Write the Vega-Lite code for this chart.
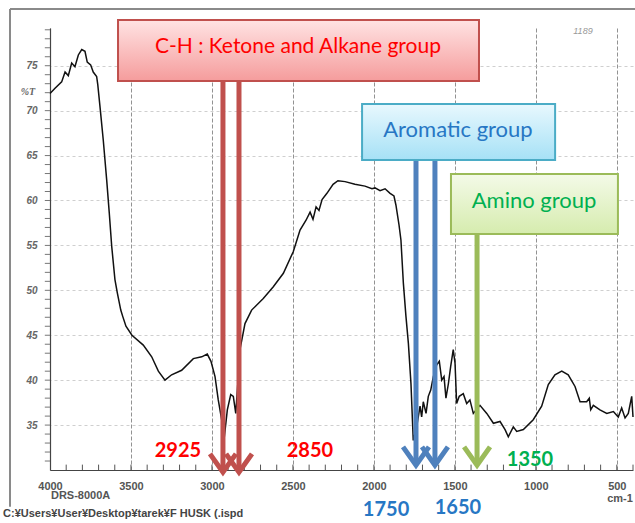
{
  "$schema": "https://vega.github.io/schema/vega-lite/v6.json",
  "width": 583,
  "height": 442,
  "autosize": {"type": "none"},
  "padding": {"left": 50, "top": 28, "right": 2, "bottom": 53},
  "background": "white",
  "config": {"view": {"stroke": null}},
  "datasets": {
    "spectrum": [
      {"wn": 4000, "T": 71.9}, {"wn": 3969, "T": 72.5}, {"wn": 3928, "T": 73.2}, {"wn": 3907, "T": 74.3},
      {"wn": 3887, "T": 73.9}, {"wn": 3866, "T": 75.3}, {"wn": 3846, "T": 74.9}, {"wn": 3825, "T": 76.2},
      {"wn": 3804, "T": 76.8}, {"wn": 3784, "T": 76.6}, {"wn": 3770, "T": 75.4}, {"wn": 3749, "T": 75.1},
      {"wn": 3733, "T": 74.3}, {"wn": 3712, "T": 73.8}, {"wn": 3705, "T": 72.9}, {"wn": 3691, "T": 70.4},
      {"wn": 3671, "T": 66.7}, {"wn": 3650, "T": 62.3}, {"wn": 3634, "T": 58.6}, {"wn": 3619, "T": 54.9},
      {"wn": 3599, "T": 51.2}, {"wn": 3584, "T": 49.7}, {"wn": 3563, "T": 47.8}, {"wn": 3551, "T": 47.1},
      {"wn": 3531, "T": 46.0}, {"wn": 3494, "T": 45.0}, {"wn": 3424, "T": 43.9}, {"wn": 3372, "T": 42.6},
      {"wn": 3331, "T": 41.0}, {"wn": 3290, "T": 40.0}, {"wn": 3249, "T": 40.6}, {"wn": 3187, "T": 41.1},
      {"wn": 3115, "T": 42.4}, {"wn": 3063, "T": 42.6}, {"wn": 3029, "T": 42.9}, {"wn": 3006, "T": 42.1},
      {"wn": 2981, "T": 40.4}, {"wn": 2961, "T": 37.8}, {"wn": 2940, "T": 35.6}, {"wn": 2926, "T": 33.3},
      {"wn": 2905, "T": 36.7}, {"wn": 2884, "T": 38.4}, {"wn": 2868, "T": 38.2}, {"wn": 2853, "T": 36.3},
      {"wn": 2843, "T": 38.9}, {"wn": 2827, "T": 43.4}, {"wn": 2796, "T": 46.3}, {"wn": 2755, "T": 47.8},
      {"wn": 2683, "T": 49.1}, {"wn": 2621, "T": 50.4}, {"wn": 2559, "T": 51.9}, {"wn": 2498, "T": 54.3},
      {"wn": 2456, "T": 56.7}, {"wn": 2419, "T": 57.8}, {"wn": 2394, "T": 58.7}, {"wn": 2376, "T": 57.9},
      {"wn": 2357, "T": 59.3}, {"wn": 2339, "T": 58.9}, {"wn": 2320, "T": 60.1}, {"wn": 2290, "T": 60.8},
      {"wn": 2252, "T": 61.8}, {"wn": 2222, "T": 62.2}, {"wn": 2178, "T": 62.1}, {"wn": 2117, "T": 61.8},
      {"wn": 2055, "T": 61.6}, {"wn": 2012, "T": 61.3}, {"wn": 1993, "T": 61.4}, {"wn": 1962, "T": 61.1},
      {"wn": 1931, "T": 61.3}, {"wn": 1900, "T": 60.8}, {"wn": 1876, "T": 60.5}, {"wn": 1864, "T": 59.5},
      {"wn": 1845, "T": 57.3}, {"wn": 1833, "T": 55.6}, {"wn": 1818, "T": 50.8}, {"wn": 1802, "T": 47.1},
      {"wn": 1787, "T": 44.1}, {"wn": 1771, "T": 39.6}, {"wn": 1757, "T": 33.3}, {"wn": 1736, "T": 34.8},
      {"wn": 1715, "T": 37.1}, {"wn": 1705, "T": 35.9}, {"wn": 1695, "T": 37.6}, {"wn": 1678, "T": 36.3},
      {"wn": 1664, "T": 38.2}, {"wn": 1649, "T": 38.9}, {"wn": 1633, "T": 40.4}, {"wn": 1612, "T": 41.7},
      {"wn": 1596, "T": 42.1}, {"wn": 1581, "T": 40.0}, {"wn": 1567, "T": 40.4}, {"wn": 1555, "T": 38.0},
      {"wn": 1540, "T": 39.6}, {"wn": 1526, "T": 41.5}, {"wn": 1510, "T": 43.4}, {"wn": 1499, "T": 41.9},
      {"wn": 1489, "T": 37.4}, {"wn": 1473, "T": 38.2}, {"wn": 1448, "T": 38.5}, {"wn": 1427, "T": 37.4},
      {"wn": 1407, "T": 37.8}, {"wn": 1386, "T": 36.3}, {"wn": 1345, "T": 37.2}, {"wn": 1303, "T": 36.3},
      {"wn": 1262, "T": 35.2}, {"wn": 1221, "T": 35.4}, {"wn": 1190, "T": 34.5}, {"wn": 1170, "T": 33.7},
      {"wn": 1139, "T": 34.8}, {"wn": 1118, "T": 34.3}, {"wn": 1077, "T": 34.5}, {"wn": 1016, "T": 35.6},
      {"wn": 964, "T": 37.1}, {"wn": 923, "T": 39.5}, {"wn": 882, "T": 40.6}, {"wn": 840, "T": 41.0},
      {"wn": 800, "T": 40.6}, {"wn": 758, "T": 39.3}, {"wn": 727, "T": 37.6}, {"wn": 686, "T": 37.6},
      {"wn": 670, "T": 38.0}, {"wn": 661, "T": 36.7}, {"wn": 645, "T": 37.2}, {"wn": 604, "T": 36.7},
      {"wn": 562, "T": 36.3}, {"wn": 521, "T": 36.5}, {"wn": 491, "T": 35.9}, {"wn": 470, "T": 36.9},
      {"wn": 449, "T": 35.8}, {"wn": 429, "T": 36.3}, {"wn": 408, "T": 38.2}, {"wn": 400, "T": 35.9}
    ],
    "xticks": [
      {"wn": 3900}, {"wn": 3800}, {"wn": 3700}, {"wn": 3600}, {"wn": 3500}, {"wn": 3400}, {"wn": 3300}, {"wn": 3200},
      {"wn": 3100}, {"wn": 3000}, {"wn": 2900}, {"wn": 2800}, {"wn": 2700}, {"wn": 2600}, {"wn": 2500}, {"wn": 2400},
      {"wn": 2300}, {"wn": 2200}, {"wn": 2100}, {"wn": 2000}, {"wn": 1900}, {"wn": 1800}, {"wn": 1700}, {"wn": 1600},
      {"wn": 1500}, {"wn": 1400}, {"wn": 1300}, {"wn": 1200}, {"wn": 1100}, {"wn": 1000}, {"wn": 900}, {"wn": 800},
      {"wn": 700}, {"wn": 600}, {"wn": 500}, {"wn": 400}
    ],
    "yticks": [
      {"T": 31}, {"T": 32}, {"T": 33}, {"T": 34}, {"T": 35}, {"T": 36}, {"T": 37}, {"T": 38}, {"T": 39}, {"T": 40},
      {"T": 41}, {"T": 42}, {"T": 43}, {"T": 44}, {"T": 45}, {"T": 46}, {"T": 47}, {"T": 48}, {"T": 49}, {"T": 50},
      {"T": 51}, {"T": 52}, {"T": 53}, {"T": 54}, {"T": 55}, {"T": 56}, {"T": 57}, {"T": 58}, {"T": 59}, {"T": 60},
      {"T": 61}, {"T": 62}, {"T": 63}, {"T": 64}, {"T": 65}, {"T": 66}, {"T": 67}, {"T": 68}, {"T": 69}, {"T": 70},
      {"T": 71}, {"T": 72}, {"T": 73}, {"T": 74}, {"T": 75}, {"T": 76}, {"T": 77}, {"T": 78}, {"T": 79}
    ],
    "boxes": [
      {"group": "CH", "label": "C-H : Ketone and Alkane group", "x1": 3580, "x2": 1351, "y1": 80.09, "y2": 73.3, "tx": 2469, "ty": 77.09},
      {"group": "Arom", "label": "Aromatic group", "x1": 2073, "x2": 881, "y1": 70.74, "y2": 64.51, "tx": 1481, "ty": 67.85},
      {"group": "Amino", "label": "Amino group", "x1": 1524, "x2": 493, "y1": 62.95, "y2": 56.27, "tx": 1011, "ty": 59.94}
    ],
    "arrows": [
      {"group": "CH", "wn": 2932, "top": 73.5, "tip": 30.2, "head": 30.78},
      {"group": "CH", "wn": 2833, "top": 73.5, "tip": 30.2, "head": 30.78},
      {"group": "Arom", "wn": 1740, "top": 64.9, "tip": 31.0, "head": 31.56},
      {"group": "Arom", "wn": 1623, "top": 64.9, "tip": 31.0, "head": 31.56},
      {"group": "Amino", "wn": 1363, "top": 56.6, "tip": 31.0, "head": 31.56}
    ],
    "peaks": [
      {"group": "CH", "label": "2925", "wn": 3210, "T": 32.12},
      {"group": "CH", "label": "2850", "wn": 2395, "T": 32.12},
      {"group": "Arom", "label": "1750", "wn": 1925, "T": 25.55},
      {"group": "Arom", "label": "1650", "wn": 1481, "T": 25.77},
      {"group": "Amino", "label": "1350", "wn": 1036, "T": 31.11}
    ]
  },
  "layer": [
    {
      "data": {"name": "spectrum"},
      "mark": {"type": "line", "color": "#111111", "strokeWidth": 1.5},
      "encoding": {
        "x": {
          "field": "wn", "type": "quantitative",
          "scale": {"domain": [400, 4000], "reverse": true, "nice": false, "zero": false},
          "axis": {
            "title": null,
            "values": [4000, 3500, 3000, 2500, 2000, 1500, 1000, 500],
            "format": "d",
            "labelOverlap": false,
            "labelFlush": false,
            "labelFont": "Liberation Sans",
            "labelFontSize": 11,
            "labelFontWeight": "bold",
            "labelColor": "#555555",
            "labelPadding": 10,
            "ticks": false,
            "domainColor": "#444444",
            "domainWidth": 1.2,
            "grid": true,
            "gridColor": "#777777",
            "gridDash": [4, 2],
            "gridOpacity": 0.8
          }
        },
        "y": {
          "field": "T", "type": "quantitative",
          "scale": {"domain": [30, 79.2], "nice": false, "zero": false},
          "axis": {
            "title": null,
            "values": [35, 40, 45, 50, 55, 60, 65, 70, 75],
            "labelOverlap": false,
            "labelFont": "Liberation Sans",
            "labelFontSize": 10,
            "labelFontWeight": "bold",
            "labelFontStyle": "italic",
            "labelColor": "#666666",
            "labelPadding": 13,
            "ticks": false,
            "domainColor": "#444444",
            "domainWidth": 1.2,
            "grid": true,
            "gridColor": "#bbbbbb",
            "gridDash": [3, 3],
            "gridOpacity": 0.7
          }
        }
      }
    },
    {
      "data": {"values": [{}]},
      "mark": {"type": "rule", "color": "#8a8a8a", "strokeWidth": 2},
      "encoding": {
        "x": {"datum": 4247, "type": "quantitative"},
        "x2": {"datum": 380},
        "y": {"datum": 81.31, "type": "quantitative"}
      }
    },
    {
      "data": {"values": [{}]},
      "mark": {"type": "rule", "color": "#8a8a8a", "strokeWidth": 2},
      "encoding": {
        "x": {"datum": 4247, "type": "quantitative"},
        "y": {"datum": 81.31, "type": "quantitative"},
        "y2": {"datum": 25.9}
      }
    },
    {
      "data": {"name": "xticks"},
      "mark": {"type": "rule", "color": "#555555", "strokeWidth": 1},
      "encoding": {
        "x": {"field": "wn", "type": "quantitative"},
        "y": {"datum": 30, "type": "quantitative"},
        "y2": {"datum": 30.6}
      }
    },
    {
      "data": {"name": "yticks"},
      "mark": {"type": "rule", "color": "#777777", "strokeWidth": 1},
      "encoding": {
        "x": {"datum": 4000, "type": "quantitative"},
        "x2": {"datum": 4032},
        "y": {"field": "T", "type": "quantitative"}
      }
    },
    {
      "data": {"name": "arrows"},
      "mark": {"type": "rule", "strokeWidth": 5, "strokeCap": "butt"},
      "encoding": {
        "x": {"field": "wn", "type": "quantitative"},
        "y": {"field": "top", "type": "quantitative"},
        "y2": {"field": "tip"},
        "color": {"field": "group", "type": "nominal", "legend": null,
          "scale": {"domain": ["CH", "Arom", "Amino"], "range": ["#C0504D", "#4F81BD", "#9BBB59"]}}
      }
    },
    {
      "data": {"name": "arrows"},
      "mark": {"type": "point", "shape": "M-1,-0.7L0,0.7L1,-0.7", "filled": false, "strokeWidth": 5, "size": 676, "strokeJoin": "miter", "opacity": 1},
      "encoding": {
        "x": {"field": "wn", "type": "quantitative"},
        "y": {"field": "head", "type": "quantitative"},
        "color": {"field": "group", "type": "nominal", "legend": null,
          "scale": {"domain": ["CH", "Arom", "Amino"], "range": ["#C0504D", "#4F81BD", "#9BBB59"]}}
      }
    },
    {
      "data": {"name": "boxes"},
      "transform": [{"filter": "datum.group === 'CH'"}],
      "mark": {"type": "rect", "stroke": "#C0504D", "strokeWidth": 2,
        "fill": {"gradient": "linear", "x1": 0, "y1": 0, "x2": 0, "y2": 1, "stops": [{"offset": 0, "color": "#FFE3E3"}, {"offset": 1, "color": "#F59C9C"}]}},
      "encoding": {
        "x": {"field": "x1", "type": "quantitative"}, "x2": {"field": "x2"},
        "y": {"field": "y1", "type": "quantitative"}, "y2": {"field": "y2"}
      }
    },
    {
      "data": {"name": "boxes"},
      "transform": [{"filter": "datum.group === 'Arom'"}],
      "mark": {"type": "rect", "stroke": "#4BACC6", "strokeWidth": 2,
        "fill": {"gradient": "linear", "x1": 0, "y1": 0, "x2": 0, "y2": 1, "stops": [{"offset": 0, "color": "#E8F8FE"}, {"offset": 1, "color": "#A6E1F6"}]}},
      "encoding": {
        "x": {"field": "x1", "type": "quantitative"}, "x2": {"field": "x2"},
        "y": {"field": "y1", "type": "quantitative"}, "y2": {"field": "y2"}
      }
    },
    {
      "data": {"name": "boxes"},
      "transform": [{"filter": "datum.group === 'Amino'"}],
      "mark": {"type": "rect", "stroke": "#9BBB59", "strokeWidth": 2,
        "fill": {"gradient": "linear", "x1": 0, "y1": 0, "x2": 0, "y2": 1, "stops": [{"offset": 0, "color": "#F4FAE8"}, {"offset": 1, "color": "#D6ECAE"}]}},
      "encoding": {
        "x": {"field": "x1", "type": "quantitative"}, "x2": {"field": "x2"},
        "y": {"field": "y1", "type": "quantitative"}, "y2": {"field": "y2"}
      }
    },
    {
      "data": {"name": "boxes"},
      "transform": [{"filter": "datum.group === 'CH'"}],
      "mark": {"type": "text", "font": "Lato", "fontSize": 21, "align": "center", "baseline": "middle", "color": "#FF0000"},
      "encoding": {
        "x": {"field": "tx", "type": "quantitative"},
        "y": {"field": "ty", "type": "quantitative"},
        "text": {"field": "label"}
      }
    },
    {
      "data": {"name": "boxes"},
      "transform": [{"filter": "datum.group !== 'CH'"}],
      "mark": {"type": "text", "font": "Lato", "fontSize": 22, "align": "center", "baseline": "middle"},
      "encoding": {
        "x": {"field": "tx", "type": "quantitative"},
        "y": {"field": "ty", "type": "quantitative"},
        "text": {"field": "label"},
        "color": {"field": "group", "type": "nominal", "legend": null,
          "scale": {"domain": ["Arom", "Amino"], "range": ["#2777C4", "#00B050"]}}
      }
    },
    {
      "data": {"name": "peaks"},
      "mark": {"type": "text", "font": "Lato", "fontSize": 20, "fontWeight": "bold", "align": "center", "baseline": "middle"},
      "encoding": {
        "x": {"field": "wn", "type": "quantitative"},
        "y": {"field": "T", "type": "quantitative"},
        "text": {"field": "label"},
        "color": {"field": "group", "type": "nominal", "legend": null,
          "scale": {"domain": ["CH", "Arom", "Amino"], "range": ["#FF0000", "#2777C4", "#00B050"]}}
      }
    },
    {
      "data": {"values": [{}]},
      "mark": {"type": "text", "text": "%T", "font": "Liberation Serif", "fontSize": 10, "fontStyle": "italic", "fontWeight": "bold", "color": "#666666", "align": "center", "baseline": "middle"},
      "encoding": {"x": {"datum": 4136, "type": "quantitative"}, "y": {"datum": 72.08, "type": "quantitative"}}
    },
    {
      "data": {"values": [{}]},
      "mark": {"type": "text", "text": "DRS-8000A", "font": "Liberation Sans", "fontSize": 11, "fontWeight": "bold", "color": "#555555", "align": "left", "baseline": "middle"},
      "encoding": {"x": {"datum": 3994, "type": "quantitative"}, "y": {"datum": 27.11, "type": "quantitative"}}
    },
    {
      "data": {"values": [{}]},
      "mark": {"type": "text", "text": "cm-1", "font": "Liberation Sans", "fontSize": 11, "fontWeight": "bold", "color": "#555555", "align": "center", "baseline": "middle"},
      "encoding": {"x": {"datum": 480, "type": "quantitative"}, "y": {"datum": 26.77, "type": "quantitative"}}
    },
    {
      "data": {"values": [{}]},
      "mark": {"type": "text", "text": "1189", "font": "Liberation Sans", "fontSize": 9, "fontStyle": "italic", "color": "#999999", "align": "center", "baseline": "middle"},
      "encoding": {"x": {"datum": 709, "type": "quantitative"}, "y": {"datum": 78.87, "type": "quantitative"}}
    },
    {
      "data": {"values": [{}]},
      "mark": {"type": "text", "text": "C:¥Users¥User¥Desktop¥tarek¥F HUSK (.ispd", "font": "Liberation Sans", "fontSize": 11, "fontWeight": "bold", "color": "#444444", "align": "left", "baseline": "middle"},
      "encoding": {"x": {"datum": 4290, "type": "quantitative"}, "y": {"datum": 25.1, "type": "quantitative"}}
    }
  ],
  "resolve": {"scale": {"color": "independent"}}
}
